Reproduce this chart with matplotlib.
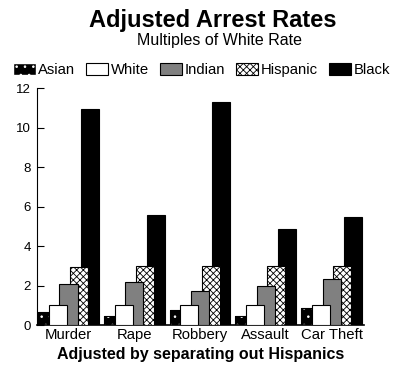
import numpy as np
import matplotlib
matplotlib.use('Agg')
import matplotlib.pyplot as plt
from matplotlib.patches import Patch

plt.rcParams['font.family'] = ['Liberation Sans', 'DejaVu Sans']
plt.rcParams['hatch.linewidth'] = 0.6

crimes = ['Murder', 'Rape', 'Robbery', 'Assault', 'Car Theft']
groups = ['Asian', 'White', 'Indian', 'Hispanic', 'Black']
asian = [0.66, 0.47, 0.76, 0.47, 0.84]
white = [1, 1, 1, 1, 1]
indian = [2.06, 2.18, 1.7, 1.99, 2.33]
hispanic = [2.95, 2.98, 2.98, 2.98, 2.98]
black = [10.92, 5.57, 11.28, 4.84, 5.48]

fig = plt.figure(figsize=(4, 3.72), dpi=100)
ax = fig.add_axes([0.0925, 0.1263, 0.8175, 0.6371])

x = np.arange(len(crimes))
step = 0.163
w = 0.274
lw = 0.8

# bars overlap; white sits on top, then indian, hispanic, black, asian underneath
ax.bar(x - 2 * step, asian, w, color='black', edgecolor='white', hatch='..', linewidth=0, zorder=2)
ax.bar(x - 2 * step, asian, w, fill=False, edgecolor='black', linewidth=lw, zorder=2)
ax.bar(x + 2 * step, black, w, color='black', edgecolor='black', linewidth=lw, zorder=3)
ax.bar(x + step, hispanic, w, color='white', edgecolor='black', hatch='xxxxx', linewidth=lw, zorder=4)
ax.bar(x, indian, w, color='#808080', edgecolor='black', linewidth=lw, zorder=5)
ax.bar(x - step, white, w, color='white', edgecolor='black', linewidth=lw, zorder=6)

ax.set_xlim(-0.479, 4.494)
ax.set_ylim(0, 12)
ax.set_yticks([0, 2, 4, 6, 8, 10, 12])
ax.set_xticks(x)
ax.set_xticklabels(crimes)
ax.tick_params(axis='y', direction='in', length=5, width=0.8, labelsize=9.5, pad=4.3)
ax.tick_params(axis='x', length=0, labelsize=10.7, pad=2.5)
for s in ['top', 'right']:
    ax.spines[s].set_visible(False)
ax.spines['left'].set_linewidth(0.8)
ax.spines['bottom'].set_linewidth(1.2)
ax.set_xlabel('Adjusted by separating out Hispanics', fontsize=11.5, fontweight='bold', labelpad=3)

fig.text(0.531, 1 - 26.5 / 372, 'Adjusted Arrest Rates', ha='center', va='baseline',
         fontsize=17, fontweight='bold')
fig.text(0.549, 1 - 44.5 / 372, 'Multiples of White Rate', ha='center', va='baseline', fontsize=11.5)

handles = [
    Patch(facecolor='black', edgecolor='white', hatch='..'),
    Patch(facecolor='white', edgecolor='black', linewidth=lw),
    Patch(facecolor='#808080', edgecolor='black', linewidth=lw),
    Patch(facecolor='white', edgecolor='black', hatch='xxxxx', linewidth=lw),
    Patch(facecolor='black', edgecolor='black', linewidth=lw),
]
fig.legend(handles, groups, loc='center', bbox_to_anchor=(0.504, 1 - 70 / 372), ncol=5,
           frameon=False, fontsize=10.7, handlelength=1.5, handleheight=0.85,
           handletextpad=0.15, columnspacing=0.75, borderaxespad=0, borderpad=0)

fig.savefig('out.png', dpi=100)
